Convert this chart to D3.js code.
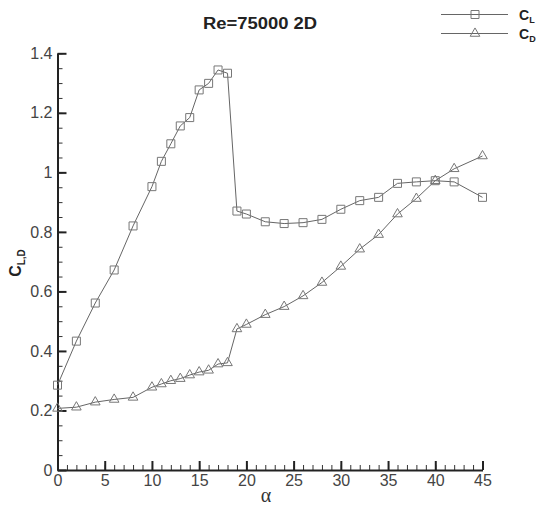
<!DOCTYPE html>
<html><head><meta charset="utf-8">
<script src="https://cdn.jsdelivr.net/npm/d3@7"></script>
<style>body{margin:0;background:#fff}svg{display:block}</style>
</head><body>
<script>
const alphaCL = [0,2,4,6,8,10,11,12,13,14,15,16,17,18,19,20,22,24,26,28,30,32,34,36,38,40,42,45];
const valuesCL = [0.285,0.433,0.561,0.672,0.820,0.952,1.037,1.096,1.156,1.184,1.277,1.299,1.344,1.333,0.870,0.860,0.834,0.828,0.831,0.842,0.876,0.905,0.916,0.963,0.968,0.972,0.968,0.916];
const alphaCD = [0,2,4,6,8,10,11,12,13,14,15,16,17,18,19,20,22,24,26,28,30,32,34,36,38,40,42,45];
const valuesCD = [0.207,0.211,0.228,0.237,0.244,0.278,0.289,0.300,0.307,0.319,0.329,0.335,0.356,0.360,0.474,0.489,0.522,0.549,0.585,0.630,0.684,0.742,0.791,0.860,0.912,0.972,1.012,1.055];
const xTicks = [0,5,10,15,20,25,30,35,40,45];
const yTicks = [0,0.2,0.4,0.6,0.8,1,1.2,1.4];
const yTickLabels = ["0","0.2","0.4","0.6","0.8","1","1.2","1.4"];
const titleText = "Re=75000 2D";
const legendNames = ["L","D"];

const W=539,H=506;
const svg=d3.select("body").append("svg").attr("width",W).attr("height",H);
const x=d3.scaleLinear().domain([0,45]).range([57.5,482.5]);
const y=d3.scaleLinear().domain([0,1.4]).range([470,53.3]);
const font="Arial, 'Liberation Sans', sans-serif";

// x axis
const xMinor=d3.range(0,46,1);
const gx=svg.append("g").attr("transform","translate(0,470)");
gx.call(d3.axisBottom(x).tickValues(xMinor).tickSize(-5).tickFormat(""));
gx.selectAll(".tick line").attr("stroke","#333").attr("stroke-width",1);
gx.select(".domain").remove();
const gx2=svg.append("g").attr("transform","translate(0,470)");
gx2.call(d3.axisBottom(x).tickValues(xTicks).tickSizeInner(-9).tickSizeOuter(0).tickPadding(5));
gx2.select(".domain").attr("stroke","#222").attr("stroke-width",2);
gx2.selectAll(".tick line").attr("stroke","#222").attr("stroke-width",2);
gx2.selectAll(".tick text").attr("font-family",font).attr("font-size",16).attr("fill","#444");

// y axis
const yMinor=d3.range(0,29).map(i=>i*0.05);
const gy=svg.append("g").attr("transform","translate(57.5,0)");
gy.call(d3.axisLeft(y).tickValues(yMinor).tickSize(-5).tickFormat(""));
gy.selectAll(".tick line").attr("stroke","#333").attr("stroke-width",1);
gy.select(".domain").remove();
const gy2=svg.append("g").attr("transform","translate(57.5,0)");
gy2.call(d3.axisLeft(y).tickValues(yTicks).tickSizeInner(-9).tickSizeOuter(0).tickPadding(5).tickFormat((d,i)=>yTickLabels[i]));
gy2.select(".domain").attr("stroke","#222").attr("stroke-width",2);
gy2.selectAll(".tick line").attr("stroke","#222").attr("stroke-width",2);
gy2.selectAll(".tick text").attr("font-family",font).attr("font-size",16).attr("fill","#444");

// lines
const line=d3.line().x(d=>x(d[0])).y(d=>y(d[1]));
const cl=alphaCL.map((a,i)=>[a,valuesCL[i]]);
const cd=alphaCD.map((a,i)=>[a,valuesCD[i]]);
svg.append("path").datum(cl).attr("d",line).attr("fill","none").attr("stroke","#666").attr("stroke-width",1);
svg.append("path").datum(cd).attr("d",line).attr("fill","none").attr("stroke","#666").attr("stroke-width",1);
const sq=d3.symbol().type(d3.symbolSquare).size(64);
const tri=d3.symbol().type(d3.symbolTriangle).size(40);
svg.append("g").selectAll("path").data(cl).join("path").attr("d",sq)
  .attr("transform",d=>`translate(${x(d[0])},${y(d[1])})`).attr("fill","none").attr("stroke","#777").attr("stroke-width",1);
svg.append("g").selectAll("path").data(cd).join("path").attr("d",tri)
  .attr("transform",d=>`translate(${x(d[0])},${y(d[1])})`).attr("fill","none").attr("stroke","#777").attr("stroke-width",1);

// title
svg.append("text").attr("x",260).attr("y",28.5).attr("text-anchor","middle")
  .attr("textLength",114).attr("lengthAdjust","spacingAndGlyphs")
  .attr("font-family",font).attr("font-size",16).attr("font-weight","bold").attr("fill","#222").text(titleText);

// legend
const legY=[14.5,33.5];
const syms=[sq,tri];
legendNames.forEach((n,i)=>{
  const g=svg.append("g");
  g.append("line").attr("x1",441).attr("x2",508).attr("y1",legY[i]).attr("y2",legY[i]).attr("stroke","#666").attr("stroke-width",1);
  g.append("path").attr("d",syms[i]).attr("transform",`translate(475,${legY[i]})`).attr("fill","none").attr("stroke","#777");
  const t=g.append("text").attr("x",519).attr("y",legY[i]+5).attr("font-family",font).attr("font-weight","bold").attr("font-size",14).attr("fill","#222");
  t.append("tspan").text("C");
  t.append("tspan").attr("font-size",9).attr("dy",3).text(n);
});

// y label
const yl=svg.append("text").attr("transform","translate(21,263) rotate(-90)").attr("text-anchor","middle")
  .attr("font-family",font).attr("font-weight","bold").attr("font-size",16).attr("fill","#222");
yl.append("tspan").text("C");
yl.append("tspan").attr("font-size",10).attr("dy",4).text("L,D");

// x label
svg.append("text").attr("x",266).attr("y",502).attr("text-anchor","middle")
  .attr("font-family","'Liberation Serif', 'DejaVu Serif', serif").attr("font-size",20).attr("fill","#333").text("α");
</script>
</body></html>
